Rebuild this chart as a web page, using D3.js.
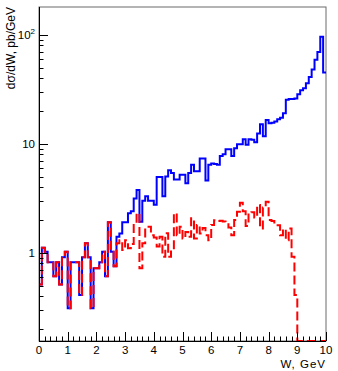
<!DOCTYPE html>
<html>
<head>
<meta charset="utf-8">
<script src="https://d3js.org/d3.v7.min.js"></script>
<style>
  body { margin: 0; background: #fff; }
  text { font-family: "Liberation Sans", Arial, sans-serif; }
</style>
</head>
<body>
<div id="chart"></div>
<script>
// bin edges: 100 bins of 0.1 GeV from 0 to 10
var binLow = d3.range(0, 100).map(function(i) { return i / 10; });

// dsigma/dW, pb/GeV (blue, solid)
var blueVals = [
  0.51, 1.11, 1.02, 0.82, 0.82, 0.61, 0.82, 0.51, 0.91, 1.02,
  0.31, 0.82, 0.82, 0.82, 0.41, 0.91, 1.22, 0.91, 0.31, 0.72,
  0.72, 0.82, 1.02, 0.61, 1.9, 1.02, 0.75, 1.4, 1.5, 1.9,
  1.9, 2.3, 2.4, 3.15, 3.76, 1.92, 3.0, 3.3, 3.0, 3.0,
  2.75, 4.95, 4.95, 3.3, 5.0, 5.7, 5.4, 4.7, 4.7, 5.2,
  5.2, 4.35, 5.4, 6.4, 5.6, 5.6, 7.3, 7.3, 4.6, 6.4,
  6.6, 6.5, 6.4, 7.7, 8.0, 8.9, 8.9, 7.7, 9.1, 9.9,
  9.9, 11.0, 9.8, 11.0, 10.9, 10.3, 12.4, 15.1, 11.7, 16.5,
  15.4, 15.6, 16, 16.8, 17.3, 19, 25.3, 25.7, 25.7, 26,
  28.5, 31, 32.3, 35.8, 41, 48, 59, 69.5, 96, 45
];

// red, dashed
var redVals = [
  0.51, 1.11, 1.02, 0.82, 0.82, 0.61, 0.82, 0.51, 0.91, 1.02,
  0.31, 0.82, 0.82, 0.82, 0.41, 0.91, 1.22, 0.91, 0.31, 0.72,
  0.72, 0.82, 1.02, 0.61, 1.9, 1.02, 0.75, 1.22, 1.3, 1.06,
  1.3, 1.1, 1.2, 1.88, 2.3, 0.72, 1.22, 1.73, 1.73, 1.45,
  1.38, 1.14, 1.4, 0.92, 1.51, 0.92, 1.06, 2.3, 1.45, 1.73,
  1.35, 1.55, 1.4, 2.07, 1.35, 1.8, 1.5, 1.69, 1.45, 1.3,
  1.8, 1.99, 1.95, 1.97, 1.93, 1.88, 1.7, 1.45, 2.0, 2.38,
  2.87, 2.4, 1.76, 2.3, 2.35, 2.1, 2.74, 1.67, 2.6, 2.94,
  2.0, 1.95, 1.79, 1.79, 1.45, 1.65, 1.3, 1.67, 0.92, 0.41,
  0, 0, 0, 0, 0, 0, 0, 0, 0, 0
];

var xTicks = d3.range(0, 11);
var yTicks = [1, 10, 100];
var yTickLabels = ["1", "10", "10"];

var w = 338;
var h = 371;
var binW = 0.1;

var svg = d3.select("#chart").append("svg").attr("width", w).attr("height", h);

var x = d3.scaleLinear().domain([0, 10]).range([39, 326]);
var y = d3.scaleLog().domain([0.155, 179.5]).range([341, 7]);

var yMin = y.domain()[0];

svg.append("defs").append("clipPath").attr("id", "frameClip")
    .append("rect")
    .attr("x", x(0)).attr("y", y.range()[1])
    .attr("width", x(10) - x(0)).attr("height", y.range()[0] - y.range()[1] + 1);

// frame (top and right are grey)
svg.append("rect")
    .attr("x", x(0)).attr("y", y.range()[1])
    .attr("width", x(10) - x(0)).attr("height", y.range()[0] - y.range()[1])
    .attr("fill", "none").attr("stroke", "#6b6b6b").attr("stroke-width", 1);

// histogram outline as steps
function histPath(vals) {
    var p = d3.path();
    vals.forEach(function(v, i) {
        var yy = y(Math.max(v, yMin));
        if (i == 0) p.moveTo(x(binLow[i]), yy);
        else p.lineTo(x(binLow[i]), yy);
        p.lineTo(x(binLow[i] + binW), yy);
    });
    return p.toString();
}

var plot = svg.append("g").attr("clip-path", "url(#frameClip)");

plot.append("path")
    .attr("d", histPath(blueVals))
    .attr("fill", "none")
    .attr("stroke", "#0000ff")
    .attr("stroke-width", 2);

plot.append("path")
    .attr("d", histPath(redVals))
    .attr("fill", "none")
    .attr("stroke", "#ff0000")
    .attr("stroke-width", 2)
    .attr("stroke-dasharray", "9,4");

// x axis
var gx = svg.append("g");
gx.append("line")
    .attr("x1", x(0)).attr("x2", x(10))
    .attr("y1", y.range()[0] + 0.5).attr("y2", y.range()[0] + 0.5)
    .attr("stroke", "#000");

var xMinor = d3.range(0, 10.01, 0.2);
gx.selectAll(".xminor")
    .data(xMinor)
    .enter()
    .append("line")
    .attr("x1", function(d) { return Math.round(x(d)) + 0.5; })
    .attr("x2", function(d) { return Math.round(x(d)) + 0.5; })
    .attr("y1", y.range()[0])
    .attr("y2", function(d) {
        return Math.abs(d - Math.round(d)) < 0.01 ? y.range()[0] - 9 : y.range()[0] - 4.5;
    })
    .attr("stroke", "#000");

gx.selectAll(".xlab")
    .data(xTicks)
    .enter()
    .append("text")
    .text(function(d) { return d; })
    .attr("x", function(d) { return x(d); })
    .attr("y", 354)
    .attr("font-size", "11.5px")
    .attr("text-anchor", "middle")
    .attr("fill", "#000");

svg.append("text")
    .text("W, GeV")
    .attr("x", x(10))
    .attr("y", 368)
    .attr("font-size", "11.5px")
    .attr("letter-spacing", "1px")
    .attr("text-anchor", "end")
    .attr("fill", "#000");

// y axis
var gy = svg.append("g");
gy.append("line")
    .attr("x1", x(0) + 0.5).attr("x2", x(0) + 0.5)
    .attr("y1", y.range()[0]).attr("y2", y.range()[1])
    .attr("stroke", "#000");

var yMinor = [];
[0.1, 1, 10, 100].forEach(function(dec) {
    for (var k = 1; k <= 9; k++) {
        var v = dec * k;
        if (v >= yMin && v <= y.domain()[1]) yMinor.push(v);
    }
});

gy.selectAll(".ytick")
    .data(yMinor)
    .enter()
    .append("line")
    .attr("x1", x(0))
    .attr("x2", function(d) {
        return yTicks.indexOf(d) >= 0 ? x(0) + 9 : x(0) + 4.5;
    })
    .attr("y1", function(d) { return Math.round(y(d)) + 0.5; })
    .attr("y2", function(d) { return Math.round(y(d)) + 0.5; })
    .attr("stroke", "#000");

var ylab = gy.selectAll(".ylab")
    .data(yTicks)
    .enter()
    .append("text")
    .attr("x", 35)
    .attr("y", function(d) { return y(d) + 4; })
    .attr("font-size", "11.5px")
    .attr("text-anchor", "end")
    .attr("fill", "#000");

ylab.append("tspan").text(function(d, i) { return yTickLabels[i]; });
ylab.filter(function(d) { return d == 100; })
    .append("tspan")
    .text("2")
    .attr("dy", -5)
    .attr("font-size", "8px");

svg.append("text")
    .text("dσ/dW, pb/GeV")
    .attr("transform", "translate(15," + y.range()[1] + ") rotate(-90)")
    .attr("font-size", "12px")
    .attr("text-anchor", "end")
    .attr("fill", "#000");
</script>
</body>
</html>
